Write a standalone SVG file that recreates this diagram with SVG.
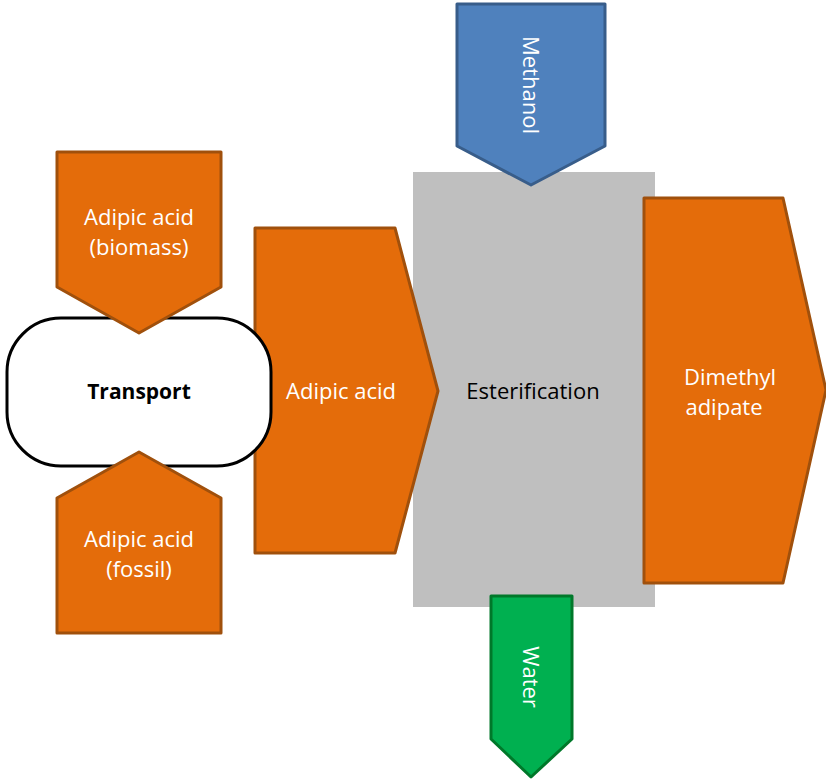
<svg xmlns="http://www.w3.org/2000/svg" width="826" height="780" viewBox="0 0 826 780">
<style>
.org{fill:#E46C0A;stroke:#A0500C;stroke-width:3;stroke-linejoin:round}
.wt{font-family:"Open Sans","Liberation Sans",sans-serif;font-size:22px;fill:#FFFFFF;text-anchor:middle}
.bk{font-family:"Open Sans","Liberation Sans",sans-serif;font-size:22px;fill:#000000;text-anchor:middle}
.bold{font-weight:bold;font-size:21px}
</style>
<rect width="826" height="780" fill="#FFFFFF"/>
<g id="esterification">
<rect x="413" y="172" width="242" height="435" fill="#BFBFBF"/>
<text class="bk" x="533" y="399">Esterification</text>
</g>
<g id="methanol">
<polygon points="457,4 605,4 605,146 531,185 457,146" fill="#4F81BD" stroke="#385D8A" stroke-width="3" stroke-linejoin="round"/>
<text class="wt" transform="translate(531,85) rotate(90)" x="0" y="8">Methanol</text>
</g>
<g id="water">
<polygon points="491,596 572,596 572,739 531,777 491,739" fill="#00B050" stroke="#00782A" stroke-width="3" stroke-linejoin="round"/>
<text class="wt" transform="translate(531,677) rotate(90)" x="0" y="8">Water</text>
</g>
<g id="dimethyl-adipate">
<polygon class="org" points="644,198 783,198 826,390 783,583 644,583"/>
<text class="wt" x="730" y="385">Dimethyl</text>
<text class="wt" x="724" y="415">adipate</text>
</g>
<g id="adipic-acid">
<polygon class="org" points="255,228 395,228 438,391 395,553 255,553"/>
<text class="wt" x="341" y="399">Adipic acid</text>
</g>
<g id="transport">
<rect x="7" y="318" width="264" height="148" rx="54" ry="54" fill="#FFFFFF" stroke="#000000" stroke-width="3"/>
<text class="bk bold" x="139" y="399">Transport</text>
</g>
<g id="adipic-acid-biomass">
<polygon class="org" points="57,152 221,152 221,287 139,333 57,287"/>
<text class="wt" x="139" y="225">Adipic acid</text>
<text class="wt" x="139" y="255">(biomass)</text>
</g>
<g id="adipic-acid-fossil">
<polygon class="org" points="139,452 221,498 221,633 57,633 57,498"/>
<text class="wt" x="139" y="547">Adipic acid</text>
<text class="wt" x="139" y="577">(fossil)</text>
</g>
<g id="connectors"></g>
</svg>
